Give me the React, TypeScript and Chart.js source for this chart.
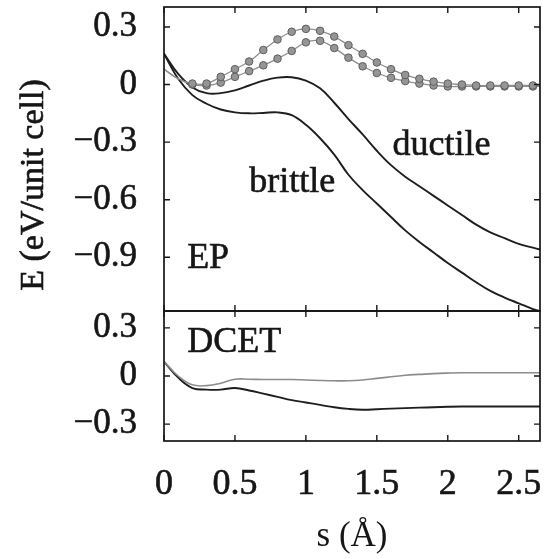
import React, { useEffect, useRef } from 'react';
import { Chart, registerables } from 'chart.js';

Chart.register(...registerables);

// ---------- data ----------
const sGrid = [0, 0.1, 0.2, 0.3, 0.4, 0.5, 0.6, 0.7, 0.8, 0.9, 1.0, 1.1, 1.2, 1.3, 1.4, 1.5, 1.6, 1.7, 1.8, 1.9, 2.0, 2.1, 2.2, 2.3, 2.4, 2.5, 2.6, 2.65];

// EP panel
const epDuctile = [0.16, 0.055, -0.015, -0.045, -0.045, -0.03, -0.005, 0.02, 0.036, 0.038, 0.02, -0.02, -0.095, -0.18, -0.26, -0.345, -0.42, -0.48, -0.53, -0.58, -0.63, -0.68, -0.73, -0.77, -0.80, -0.83, -0.85, -0.86];
const epBrittle = [0.16, 0.03, -0.055, -0.1, -0.13, -0.145, -0.15, -0.148, -0.145, -0.16, -0.21, -0.28, -0.365, -0.47, -0.55, -0.62, -0.69, -0.76, -0.82, -0.875, -0.93, -0.98, -1.03, -1.075, -1.11, -1.14, -1.17, -1.18];
const epGrayUpper = [0.08, 0.03, 0.005, 0.005, 0.04, 0.08, 0.12, 0.18, 0.235, 0.275, 0.29, 0.28, 0.25, 0.205, 0.16, 0.115, 0.08, 0.05, 0.03, 0.015, 0.005, 0.0, -0.005, -0.005, -0.005, -0.005, -0.005, -0.005];
const epGrayLower = [0.08, 0.03, 0.0, -0.005, 0.01, 0.04, 0.07, 0.1, 0.135, 0.175, 0.22, 0.228, 0.19, 0.14, 0.095, 0.06, 0.035, 0.018, 0.005, -0.005, -0.01, -0.01, -0.01, -0.01, -0.01, -0.01, -0.01, -0.01];

// DCET panel
const dcetUpper = [0.09, 0.0, -0.055, -0.06, -0.045, -0.02, -0.02, -0.022, -0.022, -0.022, -0.025, -0.028, -0.03, -0.03, -0.025, -0.015, -0.005, 0.005, 0.01, 0.015, 0.018, 0.02, 0.02, 0.02, 0.02, 0.02, 0.02, 0.02];
const dcetLower = [0.09, -0.01, -0.075, -0.085, -0.085, -0.075, -0.09, -0.11, -0.13, -0.15, -0.165, -0.18, -0.195, -0.205, -0.21, -0.207, -0.203, -0.2, -0.197, -0.195, -0.192, -0.19, -0.19, -0.19, -0.19, -0.19, -0.19, -0.19];

// axes
const xMin = 0;
const xMax = 2.65;
const xTicks = [0, 0.5, 1, 1.5, 2, 2.5];
const xTickLabels = ['0', '0.5', '1', '1.5', '2', '2.5'];
const yTopMin = -1.18;
const yTopMax = 0.404;
const yTopTicks = [-0.9, -0.6, -0.3, 0, 0.3];
const yTopTickLabels = ['\u22120.9', '\u22120.6', '\u22120.3', '0', '0.3'];
const yBotMin = -0.405;
const yBotMax = 0.405;
const yBotTicks = [-0.3, 0, 0.3];
const yBotTickLabels = ['\u22120.3', '0', '0.3'];

const xTitle = 's (\u00c5)';
const yTitle = 'E (eV/unit cell)';

// in-plot labels (data coordinates of text anchor: left / baseline)
const topLabels = [
  { text: 'EP', s: 0.163, e: -0.957 },
  { text: 'brittle', s: 0.601, e: -0.561 },
  { text: 'ductile', s: 1.611, e: -0.368 },
];
const bottomLabels = [{ text: 'DCET', s: 0.163, e: 0.15 }];

const FONT = "'Liberation Serif', 'Times New Roman', serif";
const INK = '#161616';

const pts = (arr: number[]) => arr.map((v, i) => ({ x: sGrid[i], y: v }));

const framePlugin = {
  id: 'frameTicks',
  afterDatasetsDraw(chart: any, _args: any, opts: any) {
    const { ctx, chartArea } = chart;
    const { left, right, top, bottom } = chartArea;
    const xs = chart.scales.x;
    const ys = chart.scales.y;
    ctx.save();
    ctx.strokeStyle = INK;
    ctx.lineWidth = 1.7;
    ctx.strokeRect(left, top, right - left, bottom - top);
    ctx.lineWidth = 1.4;
    const L = 6;
    ctx.beginPath();
    for (const v of xTicks) {
      const px = xs.getPixelForValue(v);
      ctx.moveTo(px, top);
      ctx.lineTo(px, top + L);
      ctx.moveTo(px, bottom);
      ctx.lineTo(px, bottom - L);
    }
    for (const v of opts.yTicks as number[]) {
      const py = ys.getPixelForValue(v);
      ctx.moveTo(left, py);
      ctx.lineTo(left + L, py);
      ctx.moveTo(right, py);
      ctx.lineTo(right - L, py);
    }
    ctx.stroke();
    ctx.restore();
  },
};

const labelPlugin = {
  id: 'panelLabels',
  afterDatasetsDraw(chart: any, _args: any, opts: any) {
    const { ctx } = chart;
    const xs = chart.scales.x;
    const ys = chart.scales.y;
    ctx.save();
    ctx.fillStyle = INK;
    ctx.strokeStyle = INK;
    ctx.lineWidth = 0.6;
    ctx.font = `36px ${FONT}`;
    ctx.textAlign = 'left';
    ctx.textBaseline = 'alphabetic';
    for (const l of opts.labels as { text: string; s: number; e: number }[]) {
      const x = xs.getPixelForValue(l.s);
      const y = ys.getPixelForValue(l.e);
      ctx.fillText(l.text, x, y);
      ctx.strokeText(l.text, x, y);
    }
    if (opts.yTitle) {
      ctx.translate(34, 185);
      ctx.rotate(-Math.PI / 2);
      ctx.font = `34px ${FONT}`;
      ctx.textAlign = 'center';
      ctx.textBaseline = 'middle';
      ctx.fillText(opts.yTitle, 0, 0);
      ctx.strokeText(opts.yTitle, 0, 0);
    }
    ctx.restore();
  },
};

const blackLine = (data: number[]) => ({
  data: pts(data),
  borderColor: '#1e1e1e',
  borderWidth: 1.9,
  pointRadius: 0,
  tension: 0.4,
});

const grayMarked = (data: number[]) => ({
  data: pts(data),
  borderColor: '#8e8e8e',
  borderWidth: 1.3,
  pointRadius: (c: any) => {
    const s = sGrid[c.dataIndex];
    return s >= 0.2 && s <= 2.6 ? 3.8 : 0;
  },
  pointBackgroundColor: '#959595',
  pointBorderColor: '#5e5e5e',
  pointBorderWidth: 1,
  tension: 0.4,
});

const fitY = (s: any) => {
  s.width = 164;
  s.paddingTop = 0;
  s.paddingBottom = 0;
  s.paddingLeft = 0;
  s.paddingRight = 0;
};

const tickFont = (size: number) => ({ size, family: FONT });

export default function App() {
  const topRef = useRef<HTMLCanvasElement>(null);
  const botRef = useRef<HTMLCanvasElement>(null);

  useEffect(() => {
    document.body.style.margin = '0';
    Chart.defaults.font.family = FONT;
    Chart.defaults.color = INK;

    const top = new Chart(topRef.current!, {
      type: 'line',
      data: {
        datasets: [
          grayMarked(epGrayUpper),
          grayMarked(epGrayLower),
          blackLine(epDuctile),
          blackLine(epBrittle),
        ],
      },
      options: {
        animation: false,
        responsive: false,
        devicePixelRatio: 1,
        layout: { padding: { left: 0, right: 9, top: 7, bottom: 9 } },
        plugins: {
          legend: { display: false },
          tooltip: { enabled: false },
          frameTicks: { yTicks: yTopTicks },
          panelLabels: { labels: topLabels, yTitle },
        } as any,
        scales: {
          x: { type: 'linear', display: false, min: xMin, max: xMax },
          y: {
            type: 'linear',
            min: yTopMin,
            max: yTopMax,
            grid: { display: false, drawTicks: false },
            border: { display: false },
            afterBuildTicks: (s: any) => {
              s.ticks = yTopTicks.map((v) => ({ value: v }));
            },
            afterFit: fitY,
            ticks: {
              autoSkip: false,
              padding: 27,
              font: tickFont(35),
              color: INK,
              textStrokeColor: INK,
              textStrokeWidth: 0.6,
              callback: (_v: any, i: number) => yTopTickLabels[i],
            } as any,
          },
        },
      },
      plugins: [framePlugin, labelPlugin],
    });

    const bot = new Chart(botRef.current!, {
      type: 'line',
      data: {
        datasets: [
          { ...blackLine(dcetUpper), borderColor: '#8c8c8c', borderWidth: 1.6 },
          blackLine(dcetLower),
        ],
      },
      options: {
        animation: false,
        responsive: false,
        devicePixelRatio: 1,
        layout: { padding: { left: 0, right: 9, top: 9, bottom: 0 } },
        plugins: {
          legend: { display: false },
          tooltip: { enabled: false },
          frameTicks: { yTicks: yBotTicks },
          panelLabels: { labels: bottomLabels },
        } as any,
        scales: {
          x: {
            type: 'linear',
            min: xMin,
            max: xMax,
            grid: { display: false, drawTicks: false },
            border: { display: false },
            afterBuildTicks: (s: any) => {
              s.ticks = xTicks.map((v) => ({ value: v }));
            },
            afterFit: (s: any) => {
              s.height = 118;
              s.paddingLeft = 0;
              s.paddingRight = 0;
              s.paddingTop = 0;
              s.paddingBottom = 0;
            },
            ticks: {
              autoSkip: false,
              maxRotation: 0,
              padding: 22,
              font: tickFont(36),
              color: INK,
              textStrokeColor: INK,
              textStrokeWidth: 0.6,
              callback: (_v: any, i: number) => xTickLabels[i],
            } as any,
            title: {
              display: true,
              text: xTitle,
              font: { size: 35, family: FONT },
              color: INK,
              padding: { top: 0, bottom: 1 },
            },
          },
          y: {
            type: 'linear',
            min: yBotMin,
            max: yBotMax,
            grid: { display: false, drawTicks: false },
            border: { display: false },
            afterBuildTicks: (s: any) => {
              s.ticks = yBotTicks.map((v) => ({ value: v }));
            },
            afterFit: fitY,
            ticks: {
              autoSkip: false,
              padding: 27,
              font: tickFont(35),
              color: INK,
              textStrokeColor: INK,
              textStrokeWidth: 0.6,
              callback: (_v: any, i: number) => yBotTickLabels[i],
            } as any,
          },
        },
      },
      plugins: [framePlugin, labelPlugin],
    });

    return () => {
      top.destroy();
      bot.destroy();
    };
  }, []);

  return (
    <div style={{ position: 'relative', width: 549, height: 559, background: '#fff' }}>
      <canvas ref={botRef} width={549} height={257} style={{ position: 'absolute', left: 0, top: 302 }} />
      <canvas ref={topRef} width={549} height={320} style={{ position: 'absolute', left: 0, top: 0 }} />
    </div>
  );
}
